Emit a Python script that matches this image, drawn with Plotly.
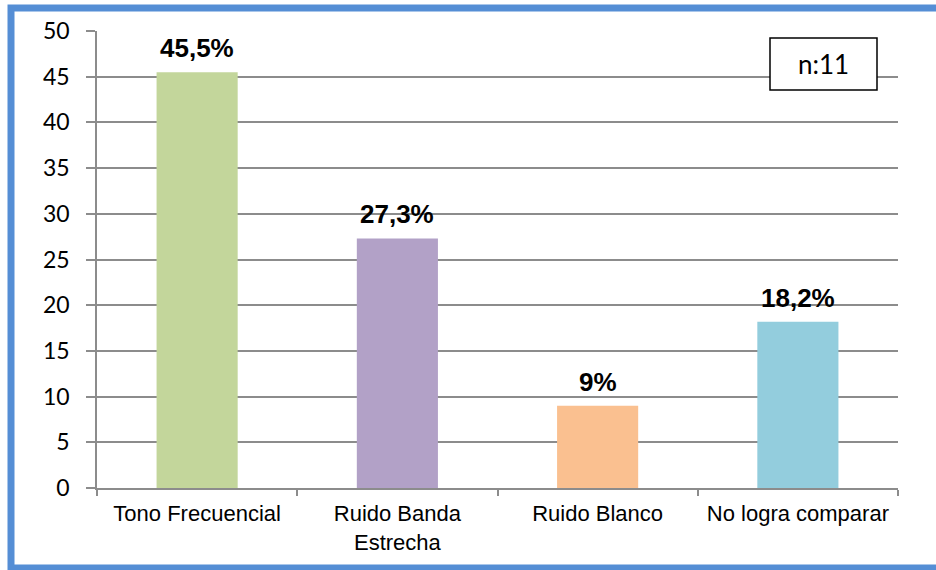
import plotly.graph_objects as go

categories = ["Tono Frecuencial", "Ruido Banda<br>Estrecha", "Ruido Blanco", "No logra comparar"]
values = [45.5, 27.3, 9.0, 18.2]
value_labels = ["45,5%", "27,3%", "9%", "18,2%"]
bar_colors = ["#C3D69B", "#B2A1C7", "#FAC090", "#93CDDD"]
y_ticks = [0, 5, 10, 15, 20, 25, 30, 35, 40, 45, 50]
n_label = "n:11"

W, H = 936, 570
L, R, T, B = 97, 38, 31, 82
pw, ph = W - L - R, H - T - B

def px(x):
    return (x - L) / pw

def py(y):
    return (H - B - y) / ph

fig = go.Figure()
fig.add_trace(go.Bar(
    x=categories, y=values, marker=dict(color=bar_colors, line=dict(width=0)),
    width=0.405, hoverinfo="skip",
))

for c, v, t in zip(categories, values, value_labels):
    fig.add_annotation(
        x=c, y=v, text="<b>%s</b>" % t, showarrow=False, yanchor="bottom",
        yshift=7, font=dict(family="Liberation Sans, Arial", size=26, color="#000000"),
    )

# n box
fig.add_shape(type="rect", xref="paper", yref="paper",
              x0=px(770), x1=px(877), y0=py(90), y1=py(38),
              fillcolor="white", line=dict(color="black", width=1.5), layer="above")
fig.add_annotation(xref="paper", yref="paper", x=px(823.5), y=py(64), text=n_label,
                   showarrow=False, xanchor="center", yanchor="middle",
                   font=dict(family="Lato", size=26, color="#000000"))

# outer blue border
fig.add_shape(type="rect", xref="paper", yref="paper",
              x0=px(11), x1=px(945), y0=py(568), y1=py(8),
              fillcolor="rgba(0,0,0,0)", line=dict(color="#558ED5", width=7), layer="above")

fig.update_layout(
    width=W, height=H, margin=dict(l=L, r=R, t=T, b=B, pad=0),
    paper_bgcolor="white", plot_bgcolor="white", showlegend=False,
    bargap=0.595,
)
fig.update_xaxes(
    showline=True, linecolor="#8C8C8C", linewidth=1.5,
    ticks="outside", tickson="boundaries", ticklen=6, tickcolor="#8C8C8C", tickwidth=1.5,
    tickfont=dict(family="Liberation Sans, Arial", size=22, color="#000000"),
    showgrid=False, ticklabelstandoff=5,
)
fig.update_yaxes(
    range=[0, 50], tickvals=y_ticks, showline=True, linecolor="#8C8C8C", linewidth=1.5,
    ticks="outside", ticklen=9, tickcolor="#8C8C8C", tickwidth=1.5,
    showgrid=True, gridcolor="#8C8C8C", gridwidth=1.5, zeroline=False,
    tickfont=dict(family="Lato", size=23, color="#000000"), ticklabelstandoff=12,
)

fig.write_html("out.html")
